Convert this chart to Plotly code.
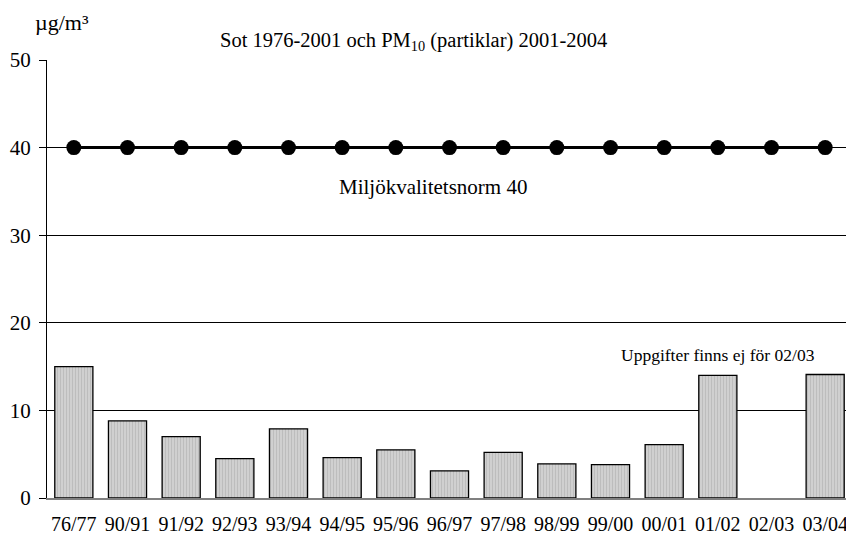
import plotly.graph_objects as go

categories = ["76/77", "90/91", "91/92", "92/93", "93/94", "94/95", "95/96", "96/97",
              "97/98", "98/99", "99/00", "00/01", "01/02", "02/03", "03/04"]
values = [15.0, 8.8, 7.0, 4.5, 7.9, 4.6, 5.5, 3.1, 5.2, 3.9, 3.8, 6.1, 14.0, None, 14.1]
norm_values = [40] * len(categories)
y_ticks = [0, 10, 20, 30, 40, 50]

FONT = "Liberation Serif"

fig = go.Figure()
fig.add_trace(go.Bar(
    x=categories, y=values,
    marker=dict(color="#c4c4c4", line=dict(color="black", width=1.3),
                pattern=dict(shape="|", size=3, fgcolor="#a9a9a9", bgcolor="#d0d0d0", solidity=0.35)),
    showlegend=False, hoverinfo="x+y",
))
fig.add_trace(go.Scatter(
    x=categories, y=norm_values, mode="lines+markers",
    line=dict(color="black", width=3),
    marker=dict(color="black", size=15),
    showlegend=False,
))

fig.update_layout(
    width=846, height=534,
    margin=dict(l=39, r=2, t=52, b=44, autoexpand=False),
    paper_bgcolor="white", plot_bgcolor="white",
    font=dict(family=FONT, color="black", size=20),
    bargap=0.29,
    xaxis=dict(type="category", range=[-0.5, len(categories) - 0.5], showgrid=False, showline=True,
               linecolor="#808080", linewidth=1.5,
               ticks="", tickfont=dict(size=20, family=FONT), ticklabelstandoff=7, automargin=False),
    yaxis=dict(range=[0, 50], tickvals=y_ticks, showgrid=True, gridcolor="black", gridwidth=1,
               showline=True, linecolor="black", linewidth=1.2, ticks="outside", ticklen=7,
               tickcolor="black", tickfont=dict(size=21, family=FONT), zeroline=False,
               ticklabelstandoff=4, automargin=False),
    shapes=[dict(type="line", xref="paper", yref="paper", x0=1, x1=1, y0=0, y1=1,
                 line=dict(color="#808080", width=2))],
    annotations=[
        dict(text="µg/m³", xref="paper", yref="paper", x=0.019, y=1.0, yshift=38,
             xanchor="center", yanchor="middle", showarrow=False, font=dict(size=22, family=FONT)),
        dict(text="Sot 1976-2001 och PM<sub>10</sub> (partiklar) 2001-2004", xref="paper", yref="paper",
             x=0.455, y=1.0, yshift=19, xanchor="center", yanchor="middle", showarrow=False,
             font=dict(size=20.5, family=FONT)),
        dict(text="Miljökvalitetsnorm 40", x=6.69, y=35.5, xref="x", yref="y", xanchor="center",
             yanchor="middle", showarrow=False, font=dict(size=21, family=FONT)),
        dict(text="Uppgifter finns ej för 02/03", x=12.0, y=16.3, xref="x", yref="y", xanchor="center",
             yanchor="middle", showarrow=False, font=dict(size=17.5, family=FONT)),
    ],
)

fig.write_html("out.html")
